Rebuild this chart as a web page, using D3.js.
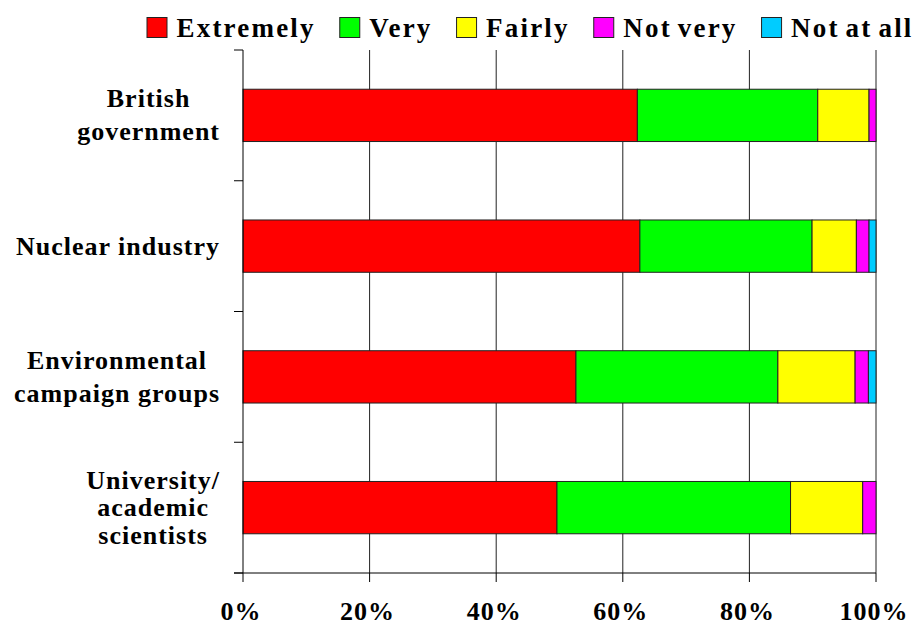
<!DOCTYPE html>
<html>
<head>
<meta charset="utf-8">
<script src="https://cdn.jsdelivr.net/npm/d3@7"></script>
<style>
  html, body { margin: 0; padding: 0; background: #fff; }
</style>
</head>
<body>
<svg id="chart" width="918" height="626"></svg>
<script>
// Survey: how much each source is trusted, share of answers per level
const categoryLines = [
  ["British", "government"],
  ["Nuclear industry"],
  ["Environmental", "campaign groups"],
  ["University/", "academic", "scientists"]
];
const seriesNames = ["Extremely", "Very", "Fairly", "Not very", "Not at all"];
const seriesColors = ["#ff0000", "#00ff00", "#ffff00", "#ff00ff", "#00ccff"];
const extremely = [62.3, 62.7, 52.6, 49.6];
const very      = [28.5, 27.2, 31.9, 36.9];
const fairly    = [8.1, 7.0, 12.2, 11.4];
const notVery   = [1.1, 2.0, 2.1, 2.1];
const notAtAll  = [0.0, 1.1, 1.2, 0.0];
const tickValues = [0, 20, 40, 60, 80, 100];
const tickLabels = ["0%", "20%", "40%", "60%", "80%", "100%"];

const seriesValues = [extremely, very, fairly, notVery, notAtAll];
const rows = categoryLines.map((lines, i) => {
  const r = { key: i };
  seriesNames.forEach((s, j) => { r[s] = seriesValues[j][i]; });
  return r;
});

const FONT = '"Liberation Serif", "Times New Roman", Tinos, serif';
const svg = d3.select("#chart")
  .attr("font-family", FONT).attr("font-weight", "bold");
const margin = { left: 243, right: 42, top: 50, bottom: 53 };
const W = 918, H = 626;
const x0 = margin.left, x1 = W - margin.right, y0 = margin.top, y1 = H - margin.bottom;

const x = d3.scaleLinear().domain([0, 100]).range([x0, x1]);
const y = d3.scaleBand().domain(rows.map(r => r.key)).range([y0, y1])
  .paddingInner(0.6).paddingOuter(0.3);

// vertical gridlines
svg.append("g").selectAll("line").data(tickValues.slice(1)).join("line")
  .attr("x1", d => x(d)).attr("x2", d => x(d))
  .attr("y1", y0).attr("y2", y1)
  .attr("stroke", "#222").attr("stroke-width", 1);

// stacked bars
const stack = d3.stack().keys(seriesNames);
const layers = stack(rows);
svg.append("g").selectAll("g").data(layers).join("g")
  .attr("fill", (d, i) => seriesColors[i])
  .selectAll("rect").data(d => d.filter(p => p[1] - p[0] > 0)).join("rect")
  .attr("x", d => x(d[0]))
  .attr("width", d => x(d[1]) - x(d[0]))
  .attr("y", d => y(d.data.key))
  .attr("height", y.bandwidth())
  .attr("stroke", "#222").attr("stroke-width", 1);

// x axis
const xAxis = svg.append("g");
xAxis.append("line").attr("x1", x0 - 9).attr("x2", x1).attr("y1", y1).attr("y2", y1)
  .attr("stroke", "#000");
xAxis.selectAll(".tk").data(tickValues).join("line").attr("class", "tk")
  .attr("x1", d => x(d)).attr("x2", d => x(d)).attr("y1", y1).attr("y2", y1 + 9)
  .attr("stroke", "#000");
xAxis.selectAll("text").data(tickValues).join("text")
  .attr("x", d => x(d) - 2).attr("y", 620)
  .attr("text-anchor", "middle")
  .attr("font-size", 26).attr("letter-spacing", 1)
  .text((d, i) => tickLabels[i]);

// y axis
const step = y.step();
const bounds = d3.range(rows.length + 1).map(i => y0 + i * step);
const yAxis = svg.append("g");
yAxis.append("line").attr("x1", x0).attr("x2", x0).attr("y1", y0).attr("y2", y1)
  .attr("stroke", "#000");
yAxis.selectAll("line.tk").data(bounds).join("line").attr("class", "tk")
  .attr("x1", x0 - 9).attr("x2", x0).attr("y1", d => d).attr("y2", d => d)
  .attr("stroke", "#000");

// category labels: lines centred on each other, block right-aligned
const labelRight = 220;
categoryLines.forEach((lines, i) => {
  const g = yAxis.append("g");
  const lh = lines.length > 2 ? 27.5 : 33;
  const cy = y(i) + y.bandwidth() / 2;
  const firstBase = cy - lh * (lines.length - 1) / 2 + 8.5;
  const texts = lines.map((t, k) => g.append("text")
    .attr("y", firstBase + k * lh)
    .attr("font-size", 26).attr("letter-spacing", 1)
    .attr("text-anchor", "middle")
    .text(t));
  const maxW = d3.max(texts, t => t.node().getComputedTextLength());
  texts.forEach(t => t.attr("x", labelRight - maxW / 2));
});

// legend
const legend = svg.append("g");
let lx = 147;
seriesNames.forEach((name, i) => {
  legend.append("rect").attr("x", lx).attr("y", 17.5).attr("width", 20).attr("height", 20)
    .attr("fill", seriesColors[i]).attr("stroke", "#222").attr("stroke-width", 1);
  const t = legend.append("text").attr("x", lx + 29.5).attr("y", 37)
    .attr("font-size", 27).attr("letter-spacing", 2.2).attr("word-spacing", -3)
    .text(name);
  lx += 29.5 + t.node().getComputedTextLength() + 24;
});
</script>
</body>
</html>
